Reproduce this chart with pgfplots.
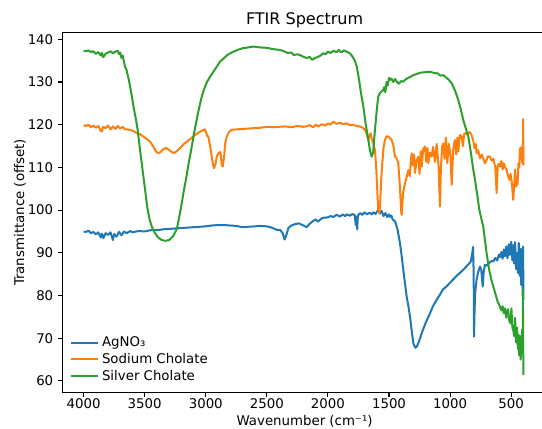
\documentclass[border=0pt]{standalone}
\usepackage{fontspec}
\setmainfont{DejaVu Sans}
\usepackage{pgfplots}
\pgfplotsset{compat=1.18}
\definecolor{tabblue}{HTML}{1F77B4}
\definecolor{taborange}{HTML}{FF7F0E}
\definecolor{tabgreen}{HTML}{2CA02C}

\begin{document}
\begin{tikzpicture}
\begin{axis}[
  name=ax, at={(0,0)}, anchor=south west,
  scale only axis, width=363pt, height=269.7pt,
  x dir=reverse,
  xmin=210, xmax=4172, ymin=57.35, ymax=141.55,
  xtick={500,1000,...,4000}, ytick={60,70,...,140},
  xtick pos=bottom, ytick pos=left,
  tick align=outside, major tick length=3.5pt,
  tick style={black, line width=0.8pt},
  axis line style={line width=0.8pt},
  /pgf/number format/1000 sep={},
  /pgf/number format/assume math mode=true,
  tick label style={font=\fontsize{10}{12}\selectfont},
  xticklabel style={yshift=2.2pt},
  title={FTIR Spectrum},
  every axis title shift=0pt,
  title style={at={(axis description cs:0.5,1.0352)}, anchor=center, yshift=0pt, font=\fontsize{12}{14}\selectfont},
  xlabel={Wavenumber (cm⁻¹)},
  xlabel style={at={(axis description cs:0.5,-0.0806)}, anchor=center, font=\fontsize{10}{12}\selectfont},
  ylabel={Transmittance (offset)},
  ylabel style={at={(axis description cs:-0.0882,0.5)}, anchor=center, font=\fontsize{10}{12}\selectfont},
  legend cell align=left,
  legend style={at={(axis description cs:0.006,0.012)}, anchor=south west, draw=none, fill=none,
    font=\fontsize{10}{12}\selectfont, row sep=-0.4pt},
  legend image code/.code={\draw[#1] (0pt,0pt) -- (20.7pt,0pt);},
  no markers,
]
% AgNO3
\addplot[tabblue, line width=1.5pt, line join=round] coordinates {
(4000,95.0)(3980,94.9)(3960,95.2)(3940,94.6)(3920,94.9)(3900,94.3)(3880,94.8)(3860,93.6)
(3850,94.5)(3838,93.4)(3820,94.6)(3800,94.2)(3780,94.8)(3760,93.0)(3750,94.4)(3730,93.8)
(3710,94.9)(3690,94.1)(3670,95.0)(3646,94.6)(3620,95.1)(3600,94.8)(3550,95.1)(3500,95.0)
(3450,95.3)(3400,95.3)(3350,95.5)(3300,95.6)(3250,95.7)(3200,95.8)(3150,95.9)(3100,96.0)
(3050,96.1)(3000,96.2)(2950,96.4)(2900,96.5)(2850,96.5)(2800,96.4)(2750,96.3)(2700,96.0)
(2650,96.1)(2600,96.2)(2550,96.3)(2500,96.2)(2460,95.9)(2420,95.4)(2390,95.3)(2370,94.6)
(2355,93.1)(2340,94.2)(2324,95.8)(2300,96.4)(2270,96.7)(2240,96.9)(2200,96.4)(2174,96.0)
(2150,96.8)(2120,97.5)(2100,97.8)(2080,97.3)(2060,97.9)(2040,98.2)(2000,98.3)(1980,98.6)
(1956,98.4)(1930,98.9)(1900,98.5)(1880,99.0)(1860,98.6)(1846,99.0)(1820,98.7)(1800,99.1)
(1780,98.8)(1772,96.5)(1766,98.4)(1760,95.5)(1755,98.7)(1737,99.3)(1720,98.9)(1700,99.5)
(1680,99.0)(1660,99.4)(1640,99.0)(1628,99.5)(1610,99.1)(1600,99.6)(1588,100.0)(1575,99.2)
(1560,99.8)(1545,98.6)(1530,99.3)(1515,98.4)(1500,99.0)(1492,98.4)(1480,98.7)(1470,97.8)
(1451,97.4)(1430,95.5)(1410,92.2)(1395,89.0)(1383,86.0)(1370,83.0)(1355,79.7)(1340,77.3)
(1328,75.0)(1315,72.0)(1301,68.8)(1285,67.8)(1273,68.0)(1255,69.2)(1232,71.2)(1200,73.6)
(1165,75.8)(1140,77.5)(1110,79.0)(1083,80.2)(1060,81.4)(1030,82.1)(1001,83.0)(970,83.9)
(940,84.8)(919,85.3)(880,86.4)(850,87.3)(830,88.0)(818,90.0)(812,91.4)(807,85.0)
(804,70.4)(800,76.0)(795,80.5)(783,83.7)(770,85.5)(755,86.8)(745,86.0)(733,82.1)
(725,85.5)(715,87.2)(700,87.0)(680,87.6)(660,88.1)(646,88.0)(630,88.8)(615,88.2)
(600,89.6)(590,89.0)(580,90.2)(570,88.6)(560,90.8)(550,89.2)(540,91.5)(530,88.7)
(520,92.0)(510,89.5)(500,92.6)(490,88.2)(482,91.8)(475,87.5)(468,92.5)(460,86.2)
(452,90.0)(445,85.3)(438,92.3)(430,84.6)(424,91.0)(418,82.5)(412,90.8)(406,80.0)
(402,91.5)(400,79.0)};
\addlegendentry{AgNO₃}
% Sodium cholate
\addplot[taborange, line width=1.5pt, line join=round] coordinates {
(4000,119.9)(3980,119.7)(3960,120.0)(3940,119.4)(3920,119.8)(3900,119.3)(3880,119.7)(3860,118.6)
(3851,118.4)(3840,119.5)(3820,119.2)(3800,119.8)(3780,118.9)(3760,119.6)(3740,119.0)(3720,119.7)
(3700,119.1)(3680,119.5)(3660,118.9)(3646,118.9)(3620,118.8)(3600,118.6)(3580,118.3)(3565,118.0)
(3540,117.8)(3510,117.2)(3480,116.6)(3456,116.0)(3430,114.9)(3410,113.8)(3388,113.3)(3370,113.6)
(3350,114.2)(3330,114.5)(3319,114.5)(3300,114.1)(3280,113.6)(3260,113.4)(3251,113.5)(3230,114.0)
(3200,114.8)(3180,115.5)(3155,116.0)(3120,116.8)(3088,117.6)(3050,118.3)(3020,118.8)(3006,118.9)
(2990,117.5)(2979,117.2)(2965,115.0)(2951,112.5)(2940,110.6)(2932,109.8)(2920,110.8)(2910,112.5)
(2897,113.3)(2880,113.6)(2868,110.5)(2861,110.2)(2850,112.5)(2840,115.8)(2828,117.2)(2810,118.3)
(2787,118.8)(2750,118.9)(2700,119.0)(2650,119.1)(2600,119.2)(2550,119.3)(2501,119.5)(2450,119.4)
(2400,119.5)(2350,119.6)(2300,119.4)(2250,119.7)(2200,119.5)(2174,119.6)(2150,119.9)(2120,119.4)
(2100,120.0)(2080,119.6)(2050,120.1)(2020,119.8)(2000,120.3)(1980,120.0)(1956,120.7)(1930,120.2)
(1900,120.5)(1880,120.1)(1850,120.3)(1820,119.9)(1792,119.9)(1760,119.7)(1730,119.5)(1710,119.2)
(1690,118.5)(1669,116.4)(1660,117.5)(1650,118.0)(1640,116.5)(1628,115.6)(1615,114.1)(1605,110.0)
(1595,104.0)(1588,100.0)(1580,99.3)(1574,100.5)(1565,106.5)(1555,111.0)(1545,114.6)(1533,116.5)
(1520,117.3)(1506,117.2)(1490,116.8)(1478,116.4)(1465,115.2)(1451,112.5)(1440,112.3)(1424,111.0)
(1410,105.0)(1400,99.5)(1396,98.9)(1385,104.0)(1369,106.3)(1355,107.8)(1342,109.4)(1330,107.9)
(1320,112.0)(1314,113.3)(1305,110.5)(1295,113.0)(1287,108.7)(1275,111.5)(1260,112.5)(1250,108.5)
(1240,113.8)(1232,110.2)(1220,114.3)(1205,114.9)(1195,111.3)(1185,114.5)(1178,111.0)(1165,113.5)
(1151,112.5)(1140,114.8)(1124,111.3)(1110,115.5)(1095,110.5)(1083,100.8)(1075,110.0)(1065,115.0)
(1056,115.6)(1045,112.0)(1035,117.0)(1023,111.0)(1010,115.5)(997,112.8)(987,105.9)(975,114.0)
(965,116.0)(960,116.4)(950,113.0)(940,117.0)(933,113.7)(920,117.6)(905,117.2)(895,115.0)
(885,117.8)(878,118.0)(860,117.8)(840,118.3)(824,117.6)(810,116.2)(800,114.5)(790,115.5)
(783,113.3)(770,114.0)(755,112.1)(740,113.0)(730,112.2)(715,111.0)(700,111.8)(690,112.6)
(674,112.5)(660,111.6)(645,112.0)(630,110.0)(619,104.0)(610,110.5)(600,110.8)(592,110.2)
(580,111.5)(570,109.5)(560,111.0)(550,110.0)(537,109.4)(525,108.0)(515,107.1)(505,108.5)
(495,106.5)(483,102.4)(475,106.0)(468,109.5)(460,105.5)(455,107.8)(448,106.0)(440,111.0)
(433,110.0)(428,114.5)(420,112.0)(414,114.8)(409,111.0)(404,113.0)(402,121.3)(400,110.5)};
\addlegendentry{Sodium Cholate}
% Silver cholate
\addplot[tabgreen, line width=1.5pt, line join=round] coordinates {
(4000,137.3)(3980,137.2)(3960,137.4)(3940,137.0)(3920,137.2)(3900,136.6)(3880,137.0)(3860,136.2)
(3850,136.8)(3840,135.8)(3820,136.6)(3800,136.9)(3780,137.2)(3760,136.7)(3740,137.1)(3720,137.3)
(3710,136.5)(3700,136.9)(3690,135.6)(3680,136.2)(3670,134.8)(3660,133.5)(3650,133.0)(3630,130.5)
(3610,127.5)(3590,124.0)(3570,121.0)(3556,118.5)(3540,114.5)(3520,110.0)(3500,105.5)(3478,100.5)
(3460,97.8)(3440,96.0)(3415,94.6)(3390,93.6)(3360,93.0)(3333,92.8)(3300,93.0)(3270,93.8)
(3250,94.8)(3235,95.8)(3220,98.0)(3200,101.0)(3180,104.5)(3160,107.5)(3140,111.0)(3120,114.0)
(3096,118.0)(3070,121.8)(3050,124.5)(3030,126.9)(3006,128.9)(2990,130.0)(2965,131.2)(2940,132.3)
(2910,133.6)(2883,134.8)(2850,135.6)(2820,136.4)(2800,136.7)(2774,137.1)(2740,137.5)(2700,137.9)
(2650,138.1)(2610,138.3)(2560,138.1)(2500,138.0)(2450,137.7)(2392,137.5)(2360,137.2)(2330,136.8)
(2300,136.9)(2280,136.3)(2250,136.5)(2228,136.3)(2200,135.9)(2174,135.6)(2150,135.9)(2130,135.2)
(2106,135.6)(2080,135.9)(2060,136.2)(2040,136.7)(2020,136.5)(2000,137.1)(1980,136.8)(1956,137.3)
(1930,137.0)(1910,137.5)(1890,136.9)(1870,137.4)(1846,137.1)(1820,136.7)(1800,136.0)(1780,135.0)
(1764,133.6)(1745,130.5)(1730,127.5)(1710,124.2)(1690,120.0)(1669,116.4)(1655,113.8)(1642,112.5)
(1630,113.5)(1615,118.8)(1600,123.5)(1588,126.6)(1574,127.4)(1560,127.8)(1547,128.1)(1540,128.8)
(1530,127.6)(1520,130.0)(1510,129.2)(1500,131.0)(1492,130.5)(1480,130.8)(1465,130.0)(1450,130.7)
(1437,130.1)(1420,129.6)(1400,130.2)(1383,130.1)(1360,130.7)(1340,131.0)(1320,131.3)(1301,131.6)
(1270,131.9)(1240,132.2)(1200,132.3)(1165,132.4)(1130,132.1)(1100,132.0)(1080,131.5)(1056,131.6)
(1030,131.0)(1010,130.5)(987,129.7)(960,128.0)(933,125.8)(910,123.3)(892,121.1)(870,119.0)
(851,117.2)(830,113.5)(810,109.5)(796,107.1)(780,104.0)(760,100.0)(740,97.5)(728,96.1)
(715,93.0)(701,89.9)(680,86.0)(660,83.5)(646,82.1)(625,80.0)(610,78.5)(600,78.0)
(592,77.4)(580,76.5)(570,77.5)(560,75.8)(550,77.0)(540,74.8)(537,75.8)(525,76.8)
(515,74.0)(505,73.5)(498,77.0)(490,72.5)(483,71.9)(475,70.5)(468,74.8)(460,69.0)
(452,72.5)(445,67.5)(440,70.8)(434,66.0)(428,70.5)(422,65.0)(417,68.5)(410,72.0)
(406,66.5)(404,81.3)(402,70.0)(400,61.4)};
\addlegendentry{Silver Cholate}
\end{axis}
\pgfresetboundingbox
\path[use as bounding box] (-46.95pt,-26.8pt) rectangle (359.55pt,294.2pt);
\end{tikzpicture}
\end{document}
